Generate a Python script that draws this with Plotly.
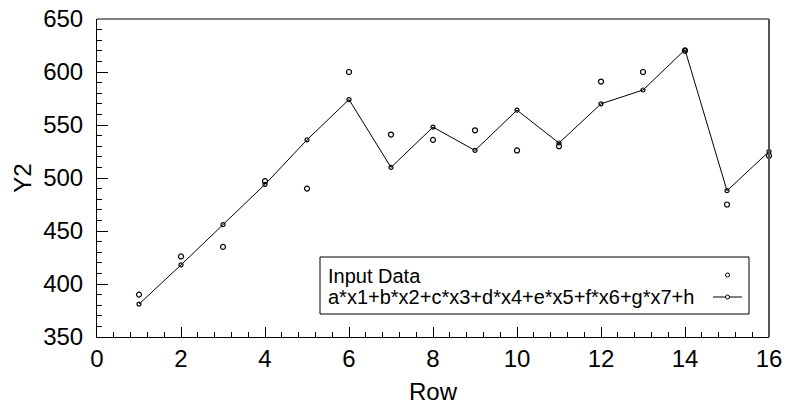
import plotly.graph_objects as go

rows = list(range(1, 17))
input_data = [390, 426, 435, 497, 490, 600, 541, 536, 545, 526, 530, 591, 600, 620, 475, 521]
fit_values = [381, 418, 456, 494, 536, 574, 510, 548, 526, 564, 533, 570, 583, 621, 488, 525]

legend_labels = ["Input Data", "a*x1+b*x2+c*x3+d*x4+e*x5+f*x6+g*x7+h"]
x_ticks = [0, 2, 4, 6, 8, 10, 12, 14, 16]
y_ticks = [350, 400, 450, 500, 550, 600, 650]

W, H = 787, 408
L, R, T, B = 97, 769, 19, 337
FONT = "Arial, Liberation Sans, sans-serif"


def px(x):
    return (x - L) / (R - L)


def py(y):
    return (B - y) / (B - T)


fig = go.Figure()
fig.add_trace(go.Scatter(
    x=rows, y=input_data, mode="markers", name=legend_labels[0],
    marker=dict(symbol="circle-open", size=5, color="black", line=dict(width=1.2)),
    cliponaxis=False, showlegend=False))
fig.add_trace(go.Scatter(
    x=rows, y=fit_values, mode="lines+markers", name=legend_labels[1],
    line=dict(color="black", width=1),
    marker=dict(symbol="circle-open", size=4, color="black", line=dict(width=1.2)),
    cliponaxis=False, showlegend=False))

shapes = [
    # top and right frame lines (grey)
    dict(type="line", xref="paper", yref="paper", x0=0, x1=1, y0=1, y1=1,
         line=dict(color="#555555", width=1.5)),
    dict(type="line", xref="paper", yref="paper", x0=1, x1=1, y0=0, y1=1,
         line=dict(color="#555555", width=2)),
    # legend box
    dict(type="rect", xref="paper", yref="paper", x0=px(320), x1=px(749),
         y0=py(314), y1=py(257), line=dict(color="black", width=1),
         fillcolor="white", layer="above"),
    # legend line sample
    dict(type="line", xref="paper", yref="paper", x0=px(713), x1=px(742),
         y0=py(297), y1=py(297), line=dict(color="black", width=1)),
]
for cy in (275, 297):
    shapes.append(dict(type="circle", xref="paper", yref="paper",
                       xsizemode="pixel", ysizemode="pixel",
                       xanchor=px(727.5), yanchor=py(cy),
                       x0=-2, x1=2, y0=-2, y1=2,
                       line=dict(color="black", width=1), fillcolor="white"))

annotations = [
    dict(text=legend_labels[0], xref="paper", yref="paper", x=px(326), y=py(275.5),
         xanchor="left", yanchor="middle", showarrow=False,
         font=dict(family=FONT, size=20, color="black")),
    dict(text=legend_labels[1], xref="paper", yref="paper", x=px(326), y=py(296.5),
         xanchor="left", yanchor="middle", showarrow=False,
         font=dict(family=FONT, size=20, color="black")),
]

fig.update_layout(
    width=W, height=H,
    margin=dict(l=L, r=W - R, t=T, b=H - B, pad=0, autoexpand=False),
    paper_bgcolor="white", plot_bgcolor="white",
    shapes=shapes, annotations=annotations,
    font=dict(family=FONT, color="black"),
    xaxis=dict(
        range=[0, 16], tickvals=x_ticks, ticktext=[str(v) for v in x_ticks],
        automargin=False,
        showgrid=False, zeroline=False, showline=True, linecolor="black", linewidth=1,
        ticks="inside", ticklen=10, tickwidth=1, tickcolor="black",
        minor=dict(dtick=0.4, tick0=0, ticks="inside", ticklen=5, tickwidth=1,
                   tickcolor="black", showgrid=False),
        tickfont=dict(family=FONT, size=24, color="black"),
        title=dict(text="Row", font=dict(family=FONT, size=24, color="black"), standoff=12),
    ),
    yaxis=dict(
        range=[350, 650], tickvals=y_ticks, ticktext=[str(v) for v in y_ticks],
        automargin=False,
        showgrid=False, zeroline=False, showline=True, linecolor="black", linewidth=1,
        ticks="inside", ticklen=11, tickwidth=1, tickcolor="black",
        minor=dict(dtick=10, tick0=350, ticks="inside", ticklen=5, tickwidth=1,
                   tickcolor="black", showgrid=False),
        tickfont=dict(family=FONT, size=24, color="black"),
        ticklabelstandoff=8,
        title=dict(text="Y2", font=dict(family=FONT, size=24, color="black"), standoff=4),
    ),
)

fig.write_html("out.html")
